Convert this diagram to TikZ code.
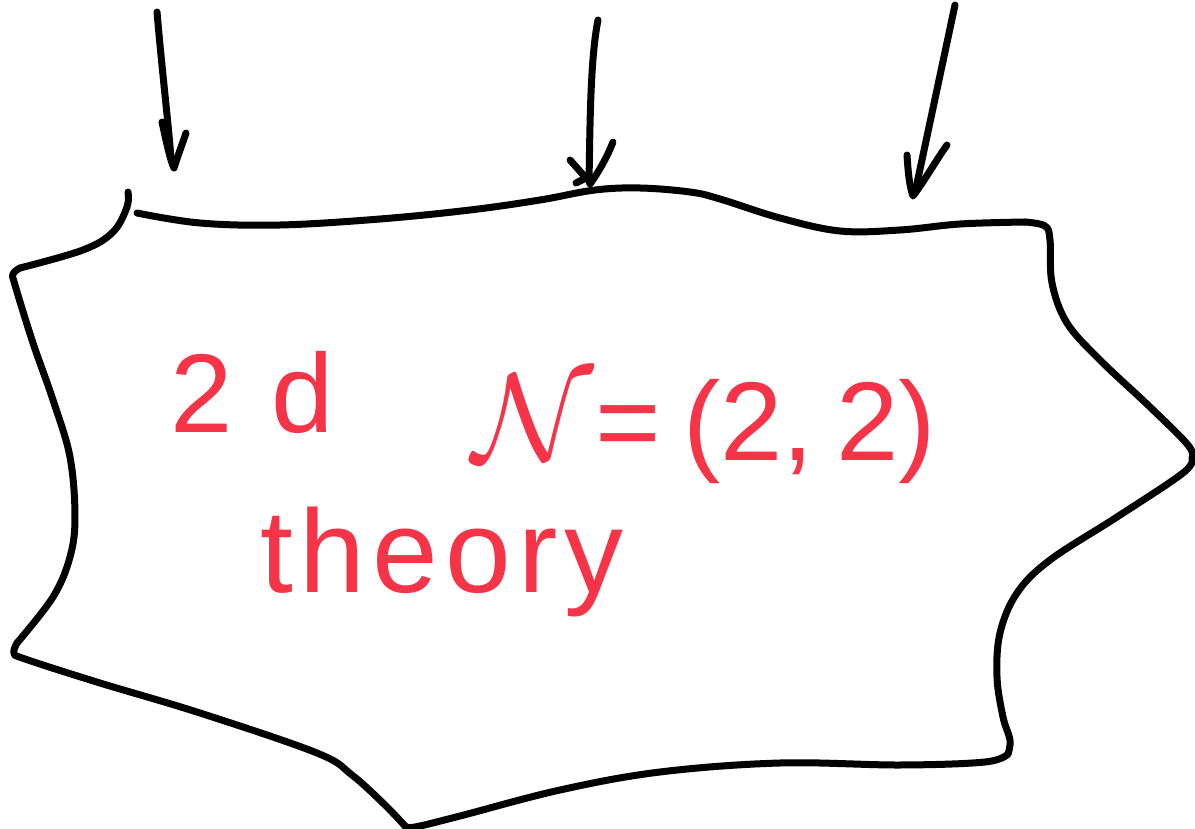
\documentclass[tikz,border=0pt]{standalone}
\usepackage{graphicx}
\usepackage{fontspec}
\setmainfont{Liberation Sans}
\definecolor{pen}{RGB}{245,52,72}
\tikzset{
  ink/.style={line width=7pt, line cap=round, line join=round, black},
  lbl/.style={text=pen, inner sep=0pt, anchor=base west, font=\fontsize{112}{130}\selectfont}
}
\begin{document}
\begin{tikzpicture}[x=1pt,y=-1pt]
\useasboundingbox (0,0) rectangle (1195,829);
% outline
\draw[ink] plot[smooth,tension=0.6] coordinates {(128,192) (127,207) (113,232) (83,250) (20,268)};
\draw[ink] plot[smooth,tension=0.6] coordinates {(20,268) (13,274) (15,285) (33,343) (53,400) (70,457) (75,517) (70,557) (53,597) (17,643)};
\draw[ink] plot[smooth,tension=0.6] coordinates {(17,643) (14,653) (25,659) (100,683) (200,713) (317,753) (352,775) (385,805) (405,826)};
\draw[ink] plot[smooth,tension=0.6] coordinates {(405,826) (415,827) (460,816) (560,790) (660,772) (780,763) (900,765) (985,762) (1008,754)};
\draw[ink] plot[smooth,tension=0.6] coordinates {(1008,754) (1010,740) (1003,717) (997,677) (1000,633) (1017,593) (1050,560) (1117,517) (1183,473) (1192,458)};
\draw[ink] plot[smooth,tension=0.6] coordinates {(1192,458) (1188,445) (1150,407) (1100,360) (1067,323) (1052,283) (1050,240) (1045,226) (1025,222)};
\draw[ink] plot[smooth,tension=0.6] coordinates {(1025,222) (960,224) (900,230) (840,231) (780,218) (720,199) (690,192) (640,188) (595,190) (540,200) (470,210) (380,219) (280,225) (200,223) (137,213)};
% arrows
\coordinate (a1s) at (157,12);
\coordinate (a1t) at (174,168);
\coordinate (a1l) at (162,122);
\coordinate (a1r) at (186,133);
\draw[ink] (a1s) .. controls (162,70) and (168,120) .. (171,158);
\draw[ink] (a1l) .. controls (166,140) and (170,160) .. (a1t) .. controls (178,155) and (182,145) .. (a1r);
\coordinate (a2s) at (598,20);
\coordinate (a2t) at (590,184);
\coordinate (a2l) at (570,160);
\coordinate (a2r) at (613,142);
\draw[ink] (a2s) .. controls (590,60) and (590,130) .. (589,182);
\draw[ink] (a2l) -- (586,178) -- (576,183);
\draw[ink] (a2t) .. controls (600,170) and (608,155) .. (a2r);
\coordinate (a3s) at (955,5);
\coordinate (a3t) at (913,196);
\coordinate (a3l) at (907,155);
\coordinate (a3r) at (947,145);
\draw[ink] (a3s) -- (916,188);
\draw[ink] (a3l) .. controls (908,170) and (909,185) .. (a3t) .. controls (925,180) and (935,162) .. (a3r);
% text
\node[lbl] (t2d) at (170,432) {2\kern0.35em d};
\node[lbl] (tN) at (472,460) {\scalebox{12.5}{\normalsize$\mathcal{N}$}\kern0.02em=\kern0.2em(2,\kern0.2em2)};
\node[lbl, font=\fontsize{118}{135}\selectfont] (tth) at (260,592) {\addfontfeatures{LetterSpace=6}theory};
\end{tikzpicture}
\end{document}
